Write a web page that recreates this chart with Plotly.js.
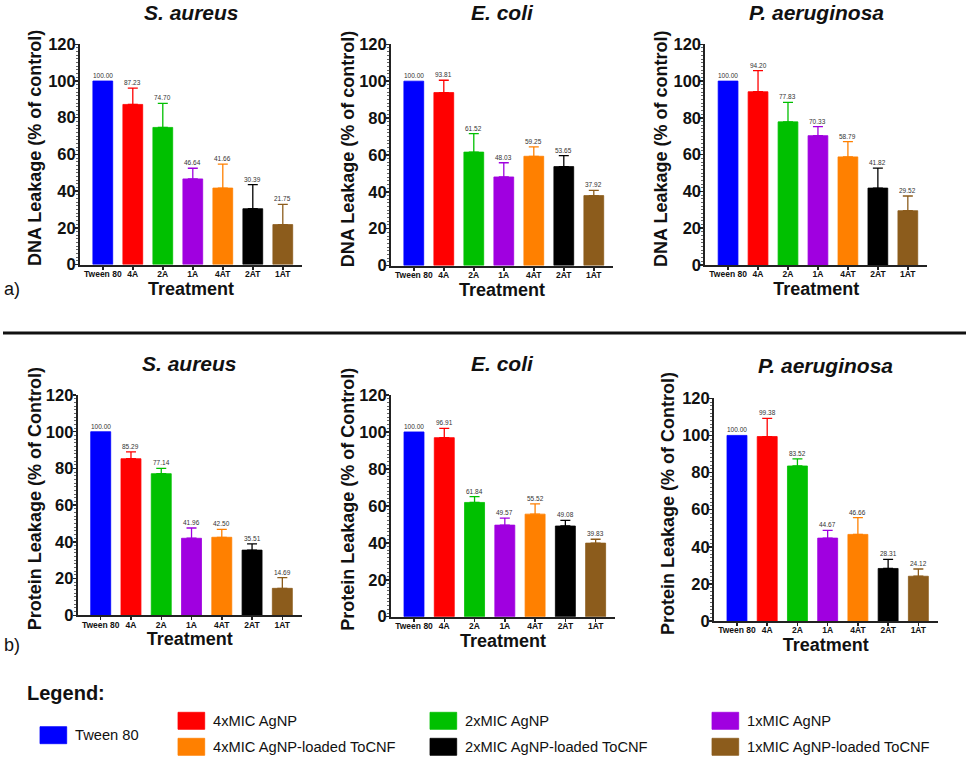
<!DOCTYPE html>
<html>
<head>
<meta charset="utf-8">
<script src="https://cdn.plot.ly/plotly-3.0.1.min.js"></script>
<style>html,body{margin:0;padding:0;background:#fff;}#chart{width:969px;height:760px;}</style>
</head>
<body>
<div id="chart"></div>
<script>
// ---------- data ----------
const categories = ["Tween 80", "4A", "2A", "1A", "4AT", "2AT", "1AT"];
const seriesNames = ["Tween 80", "4xMIC AgNP", "2xMIC AgNP", "1xMIC AgNP",
  "4xMIC AgNP-loaded ToCNF", "2xMIC AgNP-loaded ToCNF", "1xMIC AgNP-loaded ToCNF"];
const barColors = ["#0000ff", "#ff0000", "#00c000", "#a000e0", "#ff8000", "#000000", "#8c5c1c"];
const organisms = ["S. aureus", "E. coli", "P. aeruginosa"];

const dnaSaureus = [100.00, 87.23, 74.70, 46.64, 41.66, 30.39, 21.75];
const dnaSaureusErr = [0, 8.9, 13.1, 5.8, 13.0, 13.1, 11.0];
const dnaEcoli = [100.00, 93.81, 61.52, 48.03, 59.25, 53.65, 37.92];
const dnaEcoliErr = [0, 6.7, 10.0, 7.7, 5.1, 6.0, 2.8];
const dnaPaer = [100.00, 94.20, 77.83, 70.33, 58.79, 41.82, 29.52];
const dnaPaerErr = [0, 11.5, 10.6, 4.9, 8.3, 10.9, 8.0];

const protSaureus = [100.00, 85.29, 77.14, 41.96, 42.50, 35.51, 14.69];
const protSaureusErr = [0, 3.7, 2.9, 5.6, 4.3, 3.4, 5.8];
const protEcoli = [100.00, 96.91, 61.84, 49.57, 55.52, 49.08, 39.83];
const protEcoliErr = [0, 5.0, 3.1, 3.8, 5.6, 3.1, 2.1];
const protPaer = [100.00, 99.38, 83.52, 44.67, 46.66, 28.31, 24.12];
const protPaerErr = [0, 9.8, 3.8, 4.2, 9.0, 4.9, 3.9];

const yTitleDNA = "DNA Leakage (% of control)";
const yTitleProt = "Protein Leakage (% of Control)";
const xTitle = "Treatment";

// ---------- layout helpers ----------
const W = 969, H = 760;
const FONT = "Arial, 'Liberation Sans', sans-serif";
const px = x => x / W;
const py = y => 1 - y / H;

// panel boxes in pixels: [left, right, top(120), bottom(0)], y-title centre x
const panels = [
  {vals: dnaSaureus, err: dnaSaureusErr, org: 0, ytitle: yTitleDNA, box: [80, 302, 44.3, 264.5], titleY: 12.5, ytx: 38.7},
  {vals: dnaEcoli, err: dnaEcoliErr, org: 1, ytitle: yTitleDNA, box: [391, 613, 44.3, 265.5], titleY: 12.5, ytx: 351.3},
  {vals: dnaPaer, err: dnaPaerErr, org: 2, ytitle: yTitleDNA, box: [705.3, 927, 44.3, 265], titleY: 12.5, ytx: 663.3},
  {vals: protSaureus, err: protSaureusErr, org: 0, ytitle: yTitleProt, box: [77.7, 301.7, 395, 615.3], titleY: 363, ytx: 38},
  {vals: protEcoli, err: protEcoliErr, org: 1, ytitle: yTitleProt, box: [391, 615, 395, 616.7], titleY: 364, ytx: 351},
  {vals: protPaer, err: protPaerErr, org: 2, ytitle: yTitleProt, box: [714, 937.7, 398.3, 621], titleY: 365.7, ytx: 670.3}
];

const data = [];
const layout = {
  width: W, height: H,
  margin: {l: 0, r: 0, t: 0, b: 0},
  paper_bgcolor: "#ffffff", plot_bgcolor: "rgba(0,0,0,0)",
  barmode: "overlay",
  showlegend: false,
  font: {family: FONT, color: "#111"},
  annotations: [], shapes: []
};

panels.forEach((p, i) => {
  const n = i + 1;
  const xa = n === 1 ? "x" : "x" + n, ya = n === 1 ? "y" : "y" + n;
  const xk = n === 1 ? "xaxis" : "xaxis" + n, yk = n === 1 ? "yaxis" : "yaxis" + n;
  const [l, r, t, b] = p.box;
  layout[xk] = {
    domain: [px(l), px(r)], anchor: ya, type: "category",
    range: [-0.76, 6.64], categoryorder: "array", categoryarray: categories,
    showline: true, linecolor: "#222", linewidth: 2,
    ticks: "outside", ticklen: 3, tickwidth: 1.5, tickcolor: "#222",
    ticklabelstandoff: -3,
    tickfont: {family: FONT, size: 8.5, weight: "bold", color: "#111"},
    showgrid: false, zeroline: false, fixedrange: true,
    title: {text: xTitle, font: {family: FONT, size: 18, weight: "bold", color: "#111"}, standoff: 0}
  };
  layout[yk] = {
    domain: [py(b), py(t)], anchor: xa,
    range: [0, 120], tick0: 0, dtick: 20,
    showline: true, linecolor: "#222", linewidth: 2,
    ticks: "outside", ticklen: 3, tickwidth: 1.5, tickcolor: "#222",
    ticklabelstandoff: -4,
    minor: {dtick: 2, ticks: "outside", ticklen: 2, tickwidth: 1, tickcolor: "#666"},
    tickfont: {family: FONT, size: 16.5, weight: "bold", color: "#111"},
    showgrid: false, zeroline: false, fixedrange: true,
    title: {text: ""}
  };
  categories.forEach((c, k) => {
    data.push({
      type: "bar", x: [c], y: [p.vals[k]], xaxis: xa, yaxis: ya,
      name: seriesNames[k], width: 0.66,
      marker: {color: barColors[k], line: {color: barColors[k], width: 0.8}},
      error_y: {type: "data", array: [p.err[k]], arrayminus: [0], symmetric: false,
        visible: p.err[k] > 0, color: barColors[k], thickness: 1.3, width: 5},
      hoverinfo: "x+y"
    });
    layout.annotations.push({
      xref: xa, yref: ya, x: c, y: p.vals[k] + p.err[k],
      text: p.vals[k].toFixed(2), showarrow: false, yanchor: "bottom", yshift: 0,
      font: {family: FONT, size: 6.5, color: "#333"}
    });
  });
  // y-axis title
  layout.annotations.push({
    xref: "paper", yref: "paper", x: px(p.ytx - 3), y: py((t + b) / 2 - 6),
    text: p.ytitle, textangle: -90, showarrow: false, xanchor: "center", yanchor: "middle",
    font: {family: FONT, size: 18, weight: "bold", color: "#111"}
  });
  // panel title
  layout.annotations.push({
    xref: "paper", yref: "paper", x: px((l + r) / 2), y: py(p.titleY),
    text: organisms[p.org], showarrow: false, xanchor: "center", yanchor: "middle",
    font: {family: FONT, size: 21, weight: "bold", style: "italic", color: "#111"}
  });
});

// part labels
layout.annotations.push({xref: "paper", yref: "paper", x: px(2), y: py(289), text: "a)",
  showarrow: false, xanchor: "left", yanchor: "middle", font: {family: FONT, size: 18, color: "#111"}});
layout.annotations.push({xref: "paper", yref: "paper", x: px(2), y: py(645), text: "b)",
  showarrow: false, xanchor: "left", yanchor: "middle", font: {family: FONT, size: 18, color: "#111"}});

// separator
layout.shapes.push({type: "line", xref: "paper", yref: "paper", x0: px(3), x1: px(966), y0: py(333), y1: py(333),
  line: {color: "#111", width: 3}});

// custom legend
layout.annotations.push({xref: "paper", yref: "paper", x: px(25), y: py(693), text: "Legend:",
  showarrow: false, xanchor: "left", yanchor: "middle", font: {family: FONT, size: 20, weight: "bold", color: "#111"}});
const legendSlots = [
  [40, 726.7], [178, 712.3], [430, 712.3], [712, 712.3], [178, 738.3], [430, 738.3], [712, 738.3]
];
legendSlots.forEach(([sx, sy], k) => {
  layout.shapes.push({type: "rect", xref: "paper", yref: "paper",
    x0: px(sx), x1: px(sx + 26.7), y0: py(sy + 17), y1: py(sy),
    fillcolor: barColors[k], line: {color: barColors[k], width: 0.8}});
  layout.annotations.push({xref: "paper", yref: "paper", x: px(sx + 33), y: py(sy + 8.5),
    text: seriesNames[k], showarrow: false, xanchor: "left", yanchor: "middle",
    font: {family: FONT, size: 14.7, color: "#111"}});
});

Plotly.newPlot("chart", data, layout, {staticPlot: true, displayModeBar: false});
</script>
</body>
</html>
